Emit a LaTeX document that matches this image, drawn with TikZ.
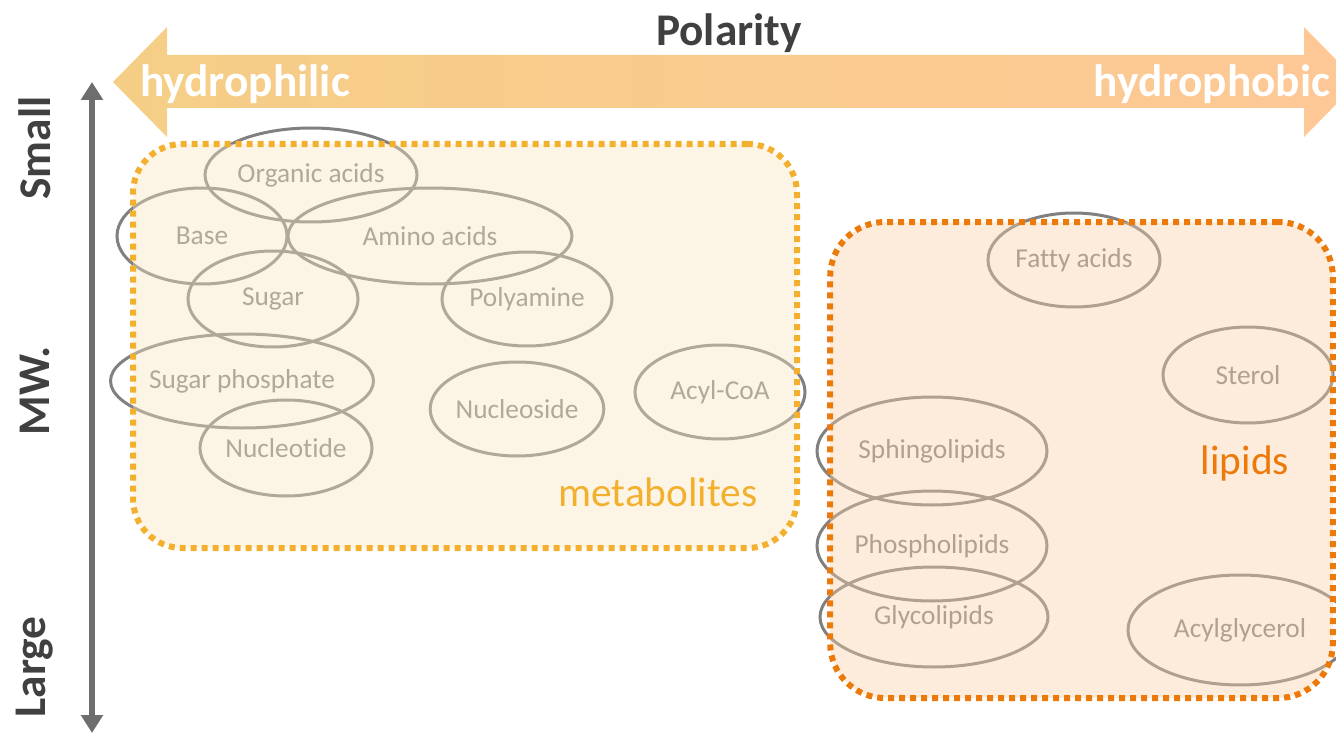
\documentclass[tikz,border=0pt]{standalone}
\usepackage{fontspec}
\setmainfont{Carlito}[Ligatures={NoCommon,NoDiscretionary,NoRare}]
\usetikzlibrary{shapes.geometric,arrows.meta}
\definecolor{axisgray}{RGB}{110,110,110}
\definecolor{labelgray}{RGB}{64,64,64}
\definecolor{ringgray}{RGB}{128,128,128}
\definecolor{metline}{RGB}{242,176,46}
\definecolor{metfill}{RGB}{248,228,188}
\definecolor{lipline}{RGB}{236,122,11}
\definecolor{lipfill}{RGB}{250,208,168}
\definecolor{polleft}{RGB}{245,206,134}
\definecolor{polmid}{RGB}{250,204,206}
\definecolor{polright}{RGB}{253,200,150}
\tikzset{
  cls/.style={ellipse, draw=ringgray, line width=2.25pt, inner sep=0pt,
    text=ringgray, font=\fontsize{20.5}{24}\selectfont},
  group/.style={rectangle, line width=4.5pt, dash pattern=on 4.5pt off 3.75pt,
    fill opacity=0.4, draw opacity=1, inner sep=0pt},
  axislabel/.style={text=labelgray, font=\fontsize{34}{40}\selectfont\bfseries},
  poltext/.style={text=white, font=\fontsize{34}{40}\selectfont\bfseries, anchor=base},
}
\begin{document}
\begin{tikzpicture}[x=0.75pt, y=-0.75pt]
\useasboundingbox (0,0) rectangle (1336,735);
\clip (0,0) rectangle (1336,735);

% polarity double arrow with colour gradient
\shade[left color=polleft, middle color=polmid, right color=polright]
  (113,82) -- (167,27) -- (167,55) -- (1304,55) -- (1304,27) -- (1358,82)
  -- (1304,137) -- (1304,108) -- (167,108) -- (167,137) -- cycle;
\node[poltext] (philic) at (245,97) {hydrophilic};
\node[poltext] (phobic) at (1212,97) {hydrophobic};
\node[axislabel, anchor=base] (polarity) at (729,46) {Polarity};

% molecular weight axis
\coordinate (mwtop) at (92,82);
\coordinate (mwbot) at (92,733);
\draw[axisgray, line width=4.5pt,
  {Triangle[width=16pt,length=13.5pt]}-{Triangle[width=16pt,length=13.5pt]}]
  (mwtop) -- (mwbot);
\node[axislabel, rotate=90] (small) at (35,148) {Small};
\node[axislabel, rotate=90] (mw) at (35,391) {MW.};
\node[axislabel, rotate=90] (large) at (35,667) {Large};

% compound classes
\node[cls, minimum width=159pt, minimum height=70.5pt] (orgacid) at (311,175) {Organic acids};
\node[cls, minimum width=127.5pt, minimum height=72pt] (base) at (202,236) {Base};
\node[cls, minimum width=213pt, minimum height=72pt] (amino) at (430,236) {Amino acids};
\node[cls, minimum width=127.5pt, minimum height=72pt] (sugar) at (273,299) {Sugar};
\node[cls, minimum width=127.5pt, minimum height=70.5pt] (polyam) at (527,299) {Polyamine};
\node[cls, minimum width=195pt, minimum height=70.5pt] (sugphos) at (242,381) {Sugar phosphate};
\node[cls, minimum width=129pt, minimum height=72pt] (nucleotide) at (286,448) {Nucleotide};
\node[cls, minimum width=129pt, minimum height=70.5pt] (nucleoside) at (517,409) {Nucleoside};
\node[cls, minimum width=127.5pt, minimum height=70.5pt] (acylcoa) at (720,392) {Acyl-CoA};
\node[cls, minimum width=129pt, minimum height=70.5pt] (fatty) at (1074,260) {Fatty acids};
\node[cls, minimum width=127.5pt, minimum height=72pt] (sterol) at (1248,375) {Sterol};
\node[cls, minimum width=172.5pt, minimum height=81pt] (sphingo) at (932,451) {Sphingolipids};
\node[cls, minimum width=172.5pt, minimum height=82.5pt] (phospho) at (932,546) {Phospholipids};
\node[cls, minimum width=171pt, minimum height=75pt] (glyco) at (934,617) {Glycolipids};
\node[cls, minimum width=168pt, minimum height=82.5pt] (acylgly) at (1240,630) {Acylglycerol};

% translucent group areas
\node[group, draw=metline, fill=metfill, rounded corners=37pt,
  minimum width=498pt, minimum height=303pt] (metab) at (465,346) {};
\node[group, draw=lipline, fill=lipfill, rounded corners=41pt,
  minimum width=377pt, minimum height=357pt] (lipid) at (1081.5,460) {};
\node[anchor=base, text=metline, font=\fontsize{31}{36}\selectfont] (metlabel) at (658,506) {metabolites};
\node[anchor=base, text=lipline, font=\fontsize{31}{36}\selectfont] (liplabel) at (1245,474) {lipids};
\end{tikzpicture}
\end{document}
